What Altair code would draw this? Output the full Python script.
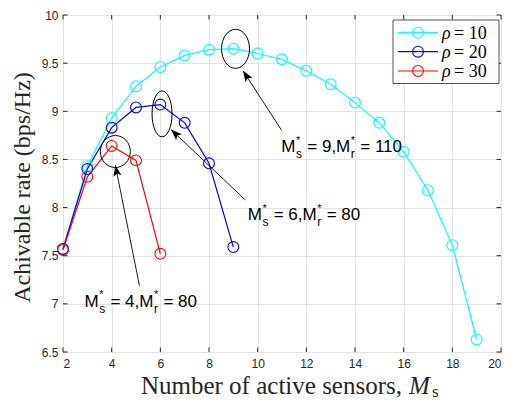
import altair as alt
import pandas as pd
import numpy as np

# ---------------- data ----------------
ms_rho10 = list(range(2, 20))
rate_rho10 = [7.57, 8.43, 8.93, 9.26, 9.46, 9.58, 9.64, 9.65, 9.60, 9.54,
              9.42, 9.28, 9.09, 8.88, 8.58, 8.18, 7.61, 6.63]
ms_rho20 = list(range(2, 10))
rate_rho20 = [7.57, 8.40, 8.83, 9.04, 9.07, 8.88, 8.46, 7.59]
ms_rho30 = list(range(2, 7))
rate_rho30 = [7.56, 8.32, 8.64, 8.49, 7.52]
rho_values = [10, 20, 30]
colors = ["#00FFFF", "#0000FF", "#FF0000"]

x_ticks = list(range(2, 21, 2))
y_ticks = [6.5, 7, 7.5, 8, 8.5, 9, 9.5, 10]

# annotations (optimum points)
ann_ms = [9, 6, 4]
ann_mr = [110, 80, 80]
ell_x = [9.09, 6.07, 4.15]
ell_y = [9.649, 8.973, 8.582]
ell_w = [28, 20, 30]
ell_h = [39, 46, 32]
arrow_tail_x = [10.99, 9.49, 5.14]
arrow_tail_y = [8.80, 8.08, 7.19]
arrow_head_x = [9.40, 6.44, 4.15]
arrow_head_y = [9.42, 8.81, 8.44]
text_x = [10.97, 9.59, 2.88]
text_y = [8.574, 7.866, 6.971]

W, H = 438, 337
XMIN, XMAX, YMIN, YMAX = 2, 20, 6.5, 10
INK = "#262626"
SERIF = "Liberation Serif"
SANS = "Liberation Sans"

xs = alt.Scale(domain=[XMIN, XMAX], nice=False, zero=False)
ys = alt.Scale(domain=[YMIN, YMAX], nice=False, zero=False)
cscale = alt.Scale(domain=rho_values, range=colors)

rows = []
for rho, xv, yv in [(10, ms_rho10, rate_rho10), (20, ms_rho20, rate_rho20), (30, ms_rho30, rate_rho30)]:
    for a, b in zip(xv, yv):
        rows.append({"x": a, "y": b, "rho": rho})
df = pd.DataFrame(rows)

X = alt.X("x:Q", scale=xs,
          axis=alt.Axis(values=x_ticks, title=None, labelPadding=6))
Y = alt.Y("y:Q", scale=ys,
          axis=alt.Axis(values=y_ticks, title=None, format="~g", labelPadding=5))
C = alt.Color("rho:N", scale=cscale, legend=None)

lines = alt.Chart(df).mark_line(strokeWidth=1.2).encode(x=X, y=Y, color=C, detail="rho:N")
points = alt.Chart(df).mark_point(shape="circle", size=118, filled=False, strokeWidth=1.1,
                                  opacity=1).encode(x="x:Q", y="y:Q", color=C)

# ellipses
ell = pd.DataFrame({
    "x": ell_x, "y": ell_y,
    "path": [f"M {-w/h:.4f} 0 A {w/h:.4f} 1 0 1 0 {w/h:.4f} 0 A {w/h:.4f} 1 0 1 0 {-w/h:.4f} 0 Z"
             for w, h in zip(ell_w, ell_h)],
    "sz": [h * h for h in ell_h],
})
ellipses = alt.Chart(ell).mark_point(filled=False, color="black", strokeWidth=1, opacity=1).encode(
    x=alt.X("x:Q", scale=xs), y=alt.Y("y:Q", scale=ys),
    shape=alt.Shape("path:N", scale=None),
    size=alt.Size("sz:Q", scale=None))

# arrows
pxx, pxy = W / (XMAX - XMIN), H / (YMAX - YMIN)
arr = pd.DataFrame({"x0": arrow_tail_x, "y0": arrow_tail_y, "x1": arrow_head_x, "y1": arrow_head_y})
arr["ang"] = [float(np.degrees(np.arctan2((b - a) * pxx, (d - c) * pxy))) % 360
              for a, b, c, d in zip(arr.x0, arr.x1, arr.y0, arr.y1)]
arrow_lines = alt.Chart(arr).mark_rule(color="black", strokeWidth=0.9).encode(
    x=alt.X("x0:Q", scale=xs), y=alt.Y("y0:Q", scale=ys), x2="x1:Q", y2="y1:Q")
arrow_heads = alt.Chart(arr).mark_point(
    shape="M 0 0 L 0.75 2 L 0 1.55 L -0.75 2 Z", filled=True, color="black", size=121,
    opacity=1, strokeWidth=0).encode(
    x=alt.X("x1:Q", scale=xs), y=alt.Y("y1:Q", scale=ys), angle=alt.Angle("ang:Q", scale=None))

# annotation texts
ann = pd.DataFrame({"x": text_x, "y": text_y,
                    "mid": [f"= {a},M" for a in ann_ms],
                    "tail": [f"= {b}" for b in ann_mr]})
def piece(field_or_text, dx, dy, size):
    base = alt.Chart(ann).mark_text(align="left", baseline="alphabetic", font=SANS,
                                    fontSize=size, dx=dx, dy=dy, color="black")
    if field_or_text in ("mid", "tail"):
        return base.encode(x=alt.X("x:Q", scale=xs), y=alt.Y("y:Q", scale=ys), text=f"{field_or_text}:N")
    return base.encode(x=alt.X("x:Q", scale=xs), y=alt.Y("y:Q", scale=ys), text=alt.value(field_or_text))

ann_layers = [
    piece("M", 0, 0, 17),
    piece("*", 14.8, -8.5, 11),
    piece("s", 14.8, 6, 12),
    piece("mid", 26, 0, 17),
    piece("*", 69.5, -8.5, 11),
    piece("r", 69.5, 6, 12),
    piece("tail", 79, 0, 17),
]

# inward ticks
xt = pd.DataFrame({"t": x_ticks})
yt = pd.DataFrame({"t": y_ticks})
TL = 4.5
tick_layers = [
    alt.Chart(xt).mark_rule(color=INK, strokeWidth=1).encode(x=alt.X("t:Q", scale=xs), y=alt.value(H), y2=alt.value(H - TL)),
    alt.Chart(xt).mark_rule(color=INK, strokeWidth=1).encode(x=alt.X("t:Q", scale=xs), y=alt.value(0), y2=alt.value(TL)),
    alt.Chart(yt).mark_rule(color=INK, strokeWidth=1).encode(y=alt.Y("t:Q", scale=ys), x=alt.value(0), x2=alt.value(TL)),
    alt.Chart(yt).mark_rule(color=INK, strokeWidth=1).encode(y=alt.Y("t:Q", scale=ys), x=alt.value(W), x2=alt.value(W - TL)),
]

# legend (manual)
LX = W - 108
leg = pd.DataFrame({"rho": rho_values, "ly": [17.7, 36.7, 56.0],
                    "lab": [f"= {r}" for r in rho_values]})
legend_box = alt.Chart(pd.DataFrame({"a": [0]})).mark_rect(
    fill="white", stroke=INK, strokeWidth=0.8).encode(
    x=alt.value(LX), x2=alt.value(LX + 106), y=alt.value(5), y2=alt.value(68.5))
legend_lines = alt.Chart(leg).mark_rule(strokeWidth=1.2).encode(
    x=alt.value(LX + 5), x2=alt.value(LX + 45), y=alt.Y("ly:Q", scale=None), color=C)
legend_pts = alt.Chart(leg).mark_point(shape="circle", size=118, filled=False, strokeWidth=1.1, opacity=1).encode(
    x=alt.value(LX + 25), y=alt.Y("ly:Q", scale=None), color=C)
legend_rho = alt.Chart(leg).mark_text(align="left", baseline="middle", font=SERIF, fontSize=18,
                                      fontStyle="italic", color="black", dy=1).encode(
    x=alt.value(LX + 49), y=alt.Y("ly:Q", scale=None), text=alt.value("ρ"))
legend_lab = alt.Chart(leg).mark_text(align="left", baseline="middle", font=SERIF, fontSize=18,
                                      color="black", dy=1).encode(
    x=alt.value(LX + 61), y=alt.Y("ly:Q", scale=None), text="lab:N")

# axis titles (manual)
one = pd.DataFrame({"a": [0]})
xtitle_main = alt.Chart(one).mark_text(align="right", baseline="alphabetic", font=SERIF, fontSize=25,
                                       color=INK).encode(
    x=alt.value(339), y=alt.value(H + 42), text=alt.value("Number of active sensors,"))
xtitle_m = alt.Chart(one).mark_text(align="left", baseline="alphabetic", font=SERIF, fontSize=25,
                                    fontStyle="italic", color=INK).encode(
    x=alt.value(346), y=alt.value(H + 42), text=alt.value("M"))
xtitle_s = alt.Chart(one).mark_text(align="left", baseline="alphabetic", font=SERIF, fontSize=17,
                                    color=INK).encode(
    x=alt.value(369), y=alt.value(H + 45), text=alt.value("s"))
ytitle = alt.Chart(one).mark_text(align="center", baseline="alphabetic", font=SERIF, fontSize=24,
                                  angle=270, color=INK).encode(
    x=alt.value(-33), y=alt.value(H / 2 + 4), text=alt.value("Achivable rate (bps/Hz)"))

chart = alt.layer(
    lines, points, ellipses, arrow_lines, arrow_heads, *ann_layers,
    *tick_layers, legend_box, legend_lines, legend_pts, legend_rho, legend_lab,
    xtitle_main, xtitle_m, xtitle_s, ytitle,
).properties(
    width=W, height=H,
    autosize=alt.AutoSizeParams(type="none"),
    padding={"left": 55, "top": 7, "right": 8, "bottom": 50},
).configure_view(
    stroke=INK, strokeWidth=1
).configure_axis(
    domain=False, ticks=False, grid=True, gridColor="#e3e3e3", gridWidth=1,
    labelFont=SANS, labelFontSize=12, labelColor=INK
)

chart.save("out.html", embed_options={"renderer": "svg", "actions": False})
